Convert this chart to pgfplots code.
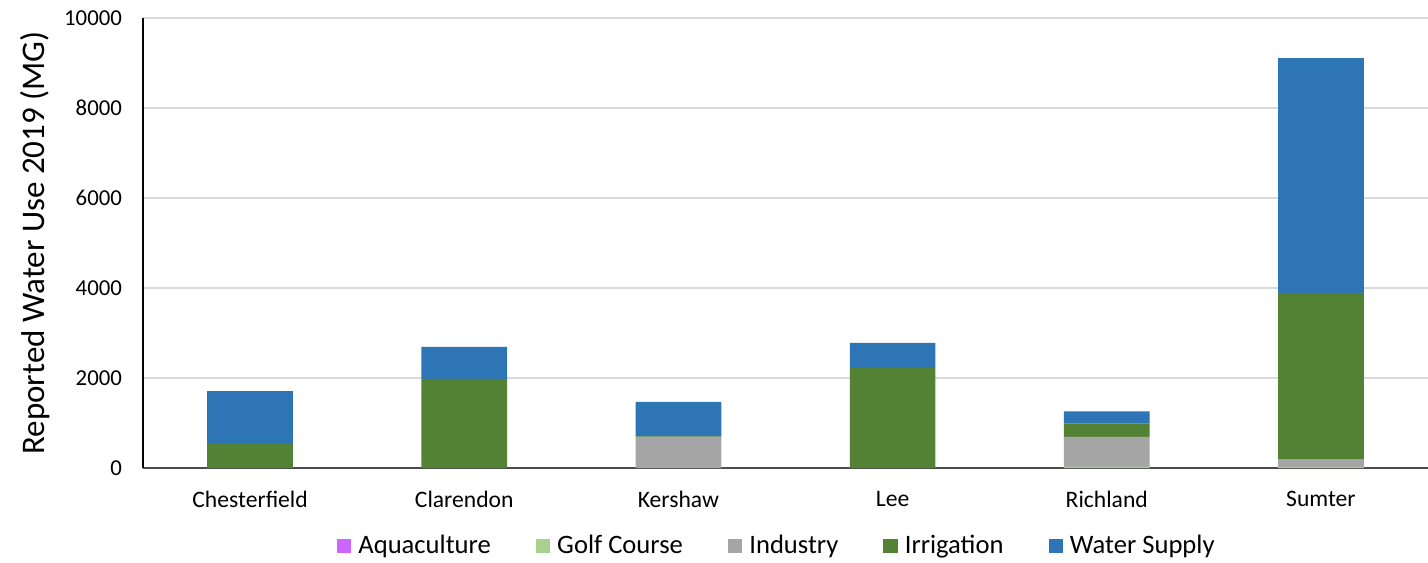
\documentclass[border=0pt]{standalone}
\usepackage{pgfplots}
\usepackage{pgfplotstable}
\pgfplotsset{compat=1.18}
\usepackage{fontspec}
\setmainfont{Carlito}

\definecolor{cAqua}{HTML}{CC66FF}
\definecolor{cGolf}{HTML}{A9D18E}
\definecolor{cInd}{HTML}{A5A5A5}
\definecolor{cIrr}{HTML}{548235}
\definecolor{cWS}{HTML}{2E75B6}

% reported water use 2019 (MG)
\pgfplotstableread{
idx aqua golf ind  irr  ws
0   0    0    0    535  1175
1   0    0    0    1980 710
2   0    0    690  12   765
3   0    0    0    2225 555
4   0    25   664  296  275
5   0    20   165  3704 5222
}\usedata

\begin{document}
\begin{tikzpicture}
\useasboundingbox (-71.5pt,-47pt) rectangle (642.5pt,234pt);
\begin{axis}[
  at={(0,0)}, anchor=south west,
  scale only axis,
  width=642.5pt, height=225pt,
  ybar stacked, bar width=0.4,
  xmin=-0.5, xmax=5.5,
  ymin=0, ymax=10000,
  ytick={0,2000,...,10000},
  xtick={0,...,5},
  xticklabels={Chesterfield,Clarendon,Kershaw,Lee,Richland,Sumter},
  scaled y ticks=false,
  /pgf/number format/assume math mode=true,
  yticklabel style={/pgf/number format/fixed, /pgf/number format/1000 sep={}, font=\fontsize{11.4}{13}\selectfont},
  xticklabel style={font=\fontsize{11.8}{13}\selectfont},
  ylabel={Reported Water Use 2019 (MG)},
  ylabel style={font=\fontsize{16.5}{18}\selectfont, at={(axis description cs:-0.084,0.5)}, anchor=center},
  ymajorgrids, major grid style={draw=black!15, line width=0.6pt},
  axis x line*=bottom, axis y line*=left,
  x axis line style={draw=black!70, line width=0.8pt, -},
  y axis line style={draw=black, line width=0.6pt, -},
  major tick length=0pt,
  tick style={draw=none},
  xticklabel shift=8pt, yticklabel shift=7pt,
  legend columns=5,
  legend style={draw=none, at={(0.494,-0.173)}, anchor=center,
    font=\fontsize{13.3}{15}\selectfont,
    /tikz/every odd column/.append style={column sep=1.5pt},
    /tikz/every even column/.append style={column sep=20.5pt}},
  legend image code/.code={\fill[#1] (0pt,-3.6pt) rectangle (7.2pt,3.6pt);},
]
\addplot[fill=cAqua, draw=none] table[x=idx, y=aqua] {\usedata};
\addplot[fill=cGolf, draw=none] table[x=idx, y=golf] {\usedata};
\addplot[fill=cInd, draw=none] table[x=idx, y=ind] {\usedata};
\addplot[fill=cIrr, draw=none] table[x=idx, y=irr] {\usedata};
\addplot[fill=cWS, draw=none] table[x=idx, y=ws] {\usedata};
\legend{Aquaculture,Golf Course,Industry,Irrigation,Water Supply}
\end{axis}
\end{tikzpicture}
\end{document}
